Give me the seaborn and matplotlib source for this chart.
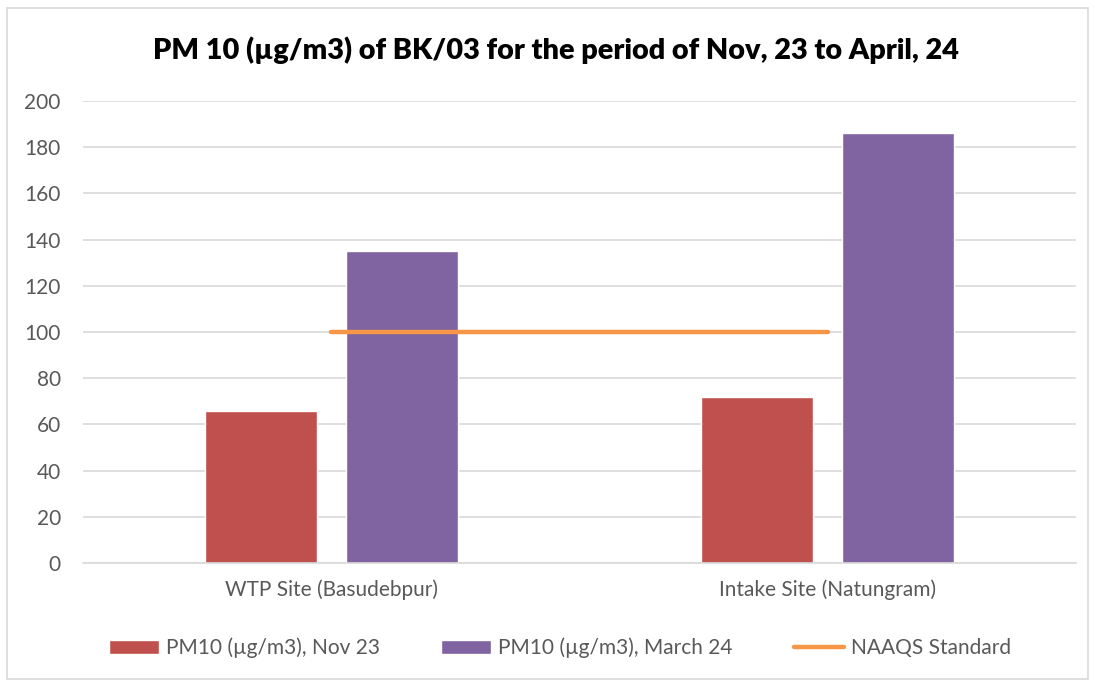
import matplotlib
matplotlib.use("Agg")
import matplotlib.pyplot as plt
import seaborn as sns
import pandas as pd
from matplotlib.patches import Patch
from matplotlib.lines import Line2D

sites = ["WTP Site (Basudebpur)", "Intake Site (Natungram)"]
series_names = ["PM10 (µg/m3), Nov 23", "PM10 (µg/m3), March 24"]
nov23 = [66, 72]
march24 = [135, 186]
naaqs = [100, 100]
line_name = "NAAQS Standard"
title = "PM 10 (µg/m3) of BK/03 for the period of Nov, 23 to April, 24"
yticks = [0, 20, 40, 60, 80, 100, 120, 140, 160, 180, 200]

colors = ["#C0504D", "#8064A2"]
line_color = "#F79646"
text_gray = "#595959"

sns.set_theme(style="white")
plt.rcParams["font.family"] = ["Lato", "DejaVu Sans"]

df = pd.DataFrame({
    "site": sites * 2,
    "value": nov23 + march24,
    "series": [series_names[0]] * 2 + [series_names[1]] * 2,
})

fig = plt.figure(figsize=(10.95, 6.82), dpi=100)
ax = fig.add_axes([83 / 1095, 1 - 563 / 682, (1076 - 83) / 1095, (563 - 101) / 682])

sns.barplot(data=df, x="site", y="value", hue="series", palette=colors,
            width=0.568, gap=0.204, ax=ax, legend=False, saturation=1)
sns.lineplot(x=[0, 1], y=naaqs, ax=ax, color=line_color, linewidth=3.2,
             solid_capstyle="round", legend=False)

ax.set_xlim(-0.5, 1.5)
ax.set_ylim(0, 200)
ax.set_yticks(yticks)
ax.set_yticklabels([str(t) for t in yticks])
ax.set_xlabel("")
ax.set_ylabel("")
ax.grid(axis="y", color="#D9D9D9", linewidth=1.2)
ax.set_axisbelow(True)
for s in ["top", "right", "left"]:
    ax.spines[s].set_visible(False)
ax.spines["bottom"].set_color("#D9D9D9")
ax.spines["bottom"].set_linewidth(1.2)
ax.tick_params(axis="both", length=0, colors=text_gray, labelsize=15)
ax.tick_params(axis="y", pad=16)
ax.tick_params(axis="x", pad=12)

fig.text(556 / 1095, 1 - 50 / 682, title, ha="center", va="center",
         fontsize=20.8, fontweight="heavy", color="black")

handles = [Patch(facecolor=colors[0]), Patch(facecolor=colors[1]),
           Line2D([0], [0], color=line_color, linewidth=3.2, solid_capstyle="round")]
fig.legend(handles, series_names + [line_name], loc="center",
           bbox_to_anchor=(560 / 1095, 1 - 648 / 682), ncol=3, frameon=False,
           fontsize=15, labelcolor=text_gray, handlelength=2.4, handleheight=0.62,
           columnspacing=2.95, handletextpad=0.33)

border = plt.Rectangle((7 / 1095, 0.004), 1 - 14 / 1095, 1 - 0.004 - 8 / 682,
                       transform=fig.transFigure,
                       fill=False, edgecolor="#D9D9D9", linewidth=1.2)
fig.add_artist(border)

fig.savefig("out.png", dpi=100)
